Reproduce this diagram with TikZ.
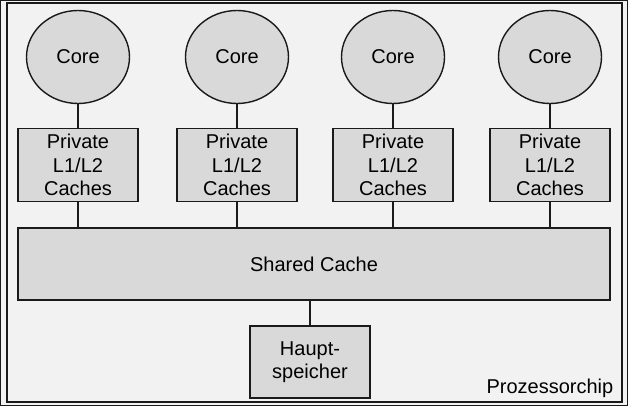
\documentclass[tikz,border=0pt]{standalone}
\usepackage{fontspec}
\setmainfont{Liberation Sans}
\usetikzlibrary{shapes.geometric}
\definecolor{bgray}{HTML}{F2F2F2}
\definecolor{sgray}{HTML}{D9D9D9}
\definecolor{lineblk}{HTML}{1A1A1A}
\tikzset{
  lbl/.style={font=\fontsize{20}{23.5}\selectfont, align=center, text=black},
  corenode/.style={ellipse, draw=lineblk, line width=1.4pt, fill=sgray, minimum width=103pt, minimum height=93pt, inner sep=0pt, lbl},
  cachebox/.style={rectangle, draw=lineblk, line width=1.4pt, fill=sgray, minimum width=120pt, minimum height=73pt, inner sep=0pt, lbl},
  conn/.style={draw=lineblk, line width=1.4pt}
}
\begin{document}
\begin{tikzpicture}[x=1pt,y=-1pt]
\useasboundingbox (0,0) rectangle (628,406);
\fill[bgray] (0,0) rectangle (628,406);
\draw[lineblk, line width=1pt] (0.5,0.5) rectangle (627.5,405.5);
\draw[lineblk, line width=1.6pt] (7,3) rectangle (622,402);
\foreach \i/\x in {1/78,2/237,3/393,4/550}{
  \node[corenode] (core\i) at (\x,57) {\raisebox{-1.5pt}{Core}};
  \node[cachebox] (cache\i) at (\x,165) {Private\\L1/L2\\Caches};
}
\node[cachebox, minimum width=592pt, minimum height=72pt] (shared) at (314,264) {Shared Cache};
\node[cachebox, minimum height=72pt] (haupt) at (310,362) {\raisebox{-2.5pt}{Haupt-}\\\raisebox{-2.5pt}{speicher}};
\node[lbl, anchor=east, inner sep=0pt] (chip) at (613.5,388) {Prozessorchip};
\foreach \i in {1,2,3,4}{
  \draw[conn] (core\i.south) -- (cache\i.north);
  \draw[conn] (cache\i.south) -- (cache\i.south |- shared.north);
}
\draw[conn] (haupt.north |- shared.south) -- (haupt.north);
\end{tikzpicture}
\end{document}
